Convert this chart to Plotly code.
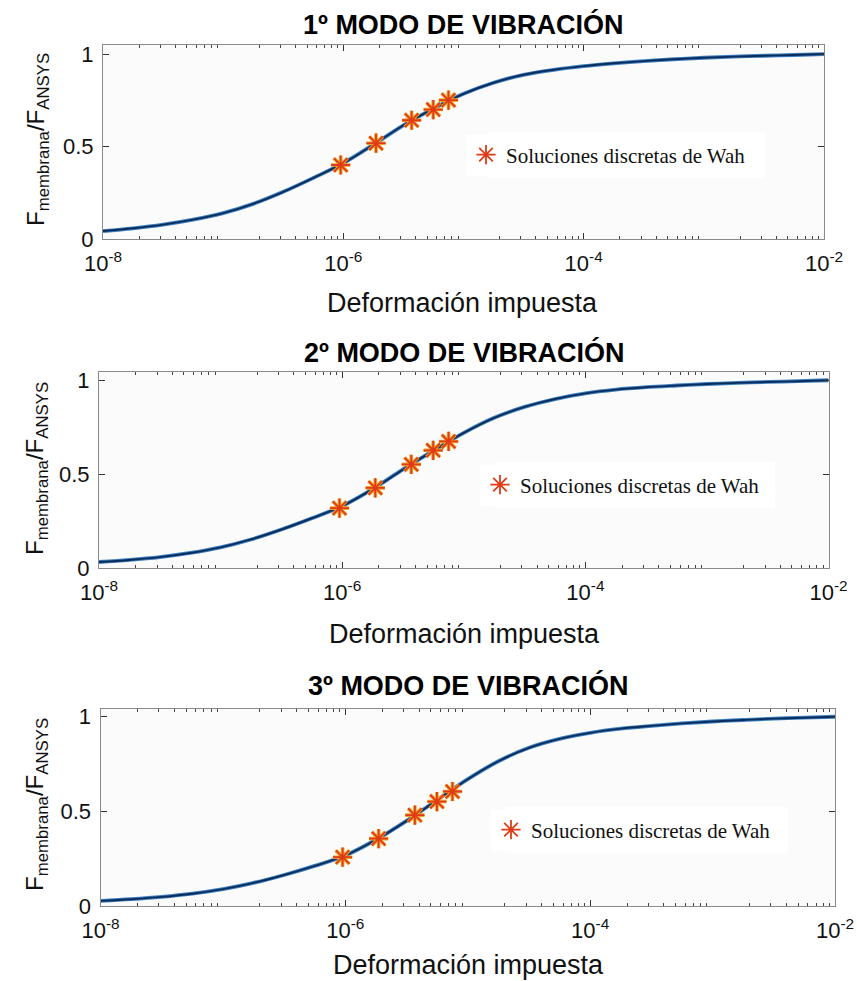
import plotly.graph_objects as go

# ---- data ----
curve_log_x = [-8.0, -7.75, -7.5, -7.25, -7.0, -6.75, -6.5, -6.25, -6.0, -5.75, -5.5, -5.25,
               -5.0, -4.75, -4.5, -4.25, -4.0, -3.75, -3.5, -3.25, -3.0, -2.75, -2.5, -2.25, -2.0]
curve_mode1 = [0.043, 0.058, 0.078, 0.105, 0.140, 0.190, 0.255, 0.330, 0.410, 0.510, 0.615, 0.705,
               0.785, 0.845, 0.888, 0.915, 0.935, 0.950, 0.962, 0.972, 0.980, 0.986, 0.991, 0.995, 1.0]
curve_mode2 = [0.032, 0.043, 0.058, 0.080, 0.110, 0.152, 0.205, 0.265, 0.330, 0.420, 0.525, 0.625,
               0.720, 0.800, 0.858, 0.900, 0.930, 0.950, 0.963, 0.972, 0.980, 0.986, 0.991, 0.995, 1.0]
curve_mode3 = [0.027, 0.036, 0.048, 0.065, 0.089, 0.122, 0.164, 0.212, 0.267, 0.350, 0.450, 0.560,
               0.670, 0.765, 0.836, 0.883, 0.915, 0.937, 0.952, 0.965, 0.975, 0.983, 0.990, 0.995, 1.0]

wah_x = [0.95e-6, 1.87e-6, 3.7e-6, 5.6e-6, 7.5e-6]
wah_mode1 = [0.40, 0.518, 0.642, 0.70, 0.751]
wah_mode2 = [0.319, 0.427, 0.552, 0.627, 0.674]
wah_mode3 = [0.258, 0.356, 0.480, 0.552, 0.605]

titles = ["1º MODO DE VIBRACIÓN", "2º MODO DE VIBRACIÓN", "3º MODO DE VIBRACIÓN"]
x_tick_vals = [1e-8, 1e-6, 1e-4, 1e-2]
x_tick_text = ["10<sup>-8</sup>", "10<sup>-6</sup>", "10<sup>-4</sup>", "10<sup>-2</sup>"]
y_tick_vals = [0, 0.5, 1]
y_tick_text = ["0", "0.5", "1"]
legend_label = "Soluciones discretas de Wah"
x_label = "Deformación impuesta"
y_label = "F<sub>membrana</sub>/F<sub>ANSYS</sub>"

W, H = 857, 981
curve_x = [10 ** e for e in curve_log_x]
minor_vals = [k * 10 ** e for e in range(-8, -2) for k in range(2, 10)]

# panel geometry in pixels
panels = [
    dict(l=103, r=824, t=45, b=239, ytop=1.049, title_y=25, title_x=463, xt_y=303, xt_x=463,
         yt_x=37, yt_y=140, text_x=507, leg_y=155, box=(487, 765, 132, 178),
         curve=curve_mode1, pts=wah_mode1),
    dict(l=99, r=828.6, t=372, b=568, ytop=1.044, title_y=352, title_x=464, xt_y=634, xt_x=464,
         yt_x=36, yt_y=469, text_x=521, leg_y=485, box=(495, 775, 462, 508),
         curve=curve_mode2, pts=wah_mode2),
    dict(l=100.5, r=835, t=709, b=906, ytop=1.041, title_y=685, title_x=468, xt_y=965, xt_x=468,
         yt_x=36, yt_y=805, text_x=532, leg_y=830, box=(506, 788, 807, 853),
         curve=curve_mode3, pts=wah_mode3),
]

fig = go.Figure()
annotations = []
shapes = []
axis_font = dict(family="Liberation Sans, Arial, sans-serif", size=22, color="#111")

for i, p in enumerate(panels):
    n = "" if i == 0 else str(i + 1)
    xa, ya = "x" + n, "y" + n
    leg = "legend" + n
    # curve: light halo + dark core
    fig.add_trace(go.Scatter(x=curve_x, y=p["curve"], mode="lines",
                             line=dict(color="#3d7fc0", width=3.8, shape="spline"),
                             xaxis=xa, yaxis=ya, showlegend=False, hoverinfo="skip"))
    fig.add_trace(go.Scatter(x=curve_x, y=p["curve"], mode="lines",
                             line=dict(color="#0b2d5c", width=1.9, shape="spline"),
                             xaxis=xa, yaxis=ya, showlegend=False))
    # Wah points: orange outer, red inner
    fig.add_trace(go.Scatter(x=wah_x, y=p["pts"], mode="markers",
                             marker=dict(symbol="asterisk-open", size=16, color="#f2a227",
                                         line=dict(color="#f2a227", width=3.6)),
                             xaxis=xa, yaxis=ya, showlegend=False, hoverinfo="skip"))
    fig.add_trace(go.Scatter(x=wah_x, y=p["pts"], mode="markers", name=legend_label,
                             marker=dict(symbol="asterisk-open", size=16, color="#df3b17",
                                         line=dict(color="#df3b17", width=1.8)),
                             xaxis=xa, yaxis=ya, showlegend=True, legend=leg))

    xdom = [p["l"] / W, p["r"] / W]
    ydom = [1 - p["b"] / H, 1 - p["t"] / H]
    fig.update_layout(**{
        "xaxis" + n: dict(type="log", domain=xdom, range=[-8, -2], anchor=ya, automargin=False,
                          tickmode="array", tickvals=x_tick_vals, ticktext=x_tick_text,
                          ticks="inside", ticklen=6, tickcolor="#333", showline=True, linecolor="#8a8a8a",
                          mirror="allticks", showgrid=False, zeroline=False, tickfont=axis_font,
                          ticklabelstandoff=5,
                          minor=dict(tickmode="array", tickvals=minor_vals, ticks="inside", ticklen=3,
                                     tickcolor="#444", showgrid=False)),
        "yaxis" + n: dict(domain=ydom, range=[0, p["ytop"]], anchor=xa, automargin=False,
                          tickmode="array", tickvals=y_tick_vals, ticktext=y_tick_text,
                          ticks="inside", ticklen=6, tickcolor="#333", showline=True, linecolor="#8a8a8a",
                          mirror="allticks", showgrid=False, zeroline=False, tickfont=axis_font,
                          ticklabelstandoff=4),
        leg: dict(x=(p["text_x"] - 41) / W, y=1 - p["leg_y"] / H, xanchor="left", yanchor="middle",
                  bgcolor="white", borderwidth=0, itemwidth=30,
                  font=dict(family="Liberation Serif, Times New Roman, serif", size=21, color="#111")),
    })
    annotations.append(dict(text="<b>" + titles[i] + "</b>", x=p["title_x"] / W, y=1 - p["title_y"] / H,
                            xref="paper", yref="paper", showarrow=False, xanchor="center", yanchor="middle",
                            font=dict(family="Liberation Sans, Arial, sans-serif", size=27, color="#000")))
    annotations.append(dict(text=x_label, x=p["xt_x"] / W, y=1 - p["xt_y"] / H,
                            xref="paper", yref="paper", showarrow=False, xanchor="center", yanchor="middle",
                            font=dict(family="Liberation Sans, Arial, sans-serif", size=27, color="#111")))
    annotations.append(dict(text=y_label, x=p["yt_x"] / W, y=1 - p["yt_y"] / H, textangle=-90,
                            xref="paper", yref="paper", showarrow=False, xanchor="center", yanchor="middle",
                            font=dict(family="Liberation Sans, Arial, sans-serif", size=24, color="#111")))
    # plot-area background
    shapes.append(dict(type="rect", xref="x" + n + " domain", yref="y" + n + " domain", x0=0, x1=1, y0=0, y1=1,
                       fillcolor="#fbfbfb", line=dict(width=0), layer="below"))
    # white legend box
    bx0, bx1, by0, by1 = p["box"]
    shapes.append(dict(type="rect", xref="paper", yref="paper", x0=bx0 / W, x1=bx1 / W,
                       y0=1 - by1 / H, y1=1 - by0 / H, fillcolor="white", line=dict(width=0), layer="below"))

fig.update_layout(width=W, height=H, margin=dict(l=0, r=0, t=0, b=0, autoexpand=False),
                  paper_bgcolor="white", plot_bgcolor="rgba(0,0,0,0)",
                  annotations=annotations, shapes=shapes)

fig.write_html("out.html", config={"displayModeBar": False},
               post_script="document.body.style.margin='0';document.body.style.padding='0';"
                           "document.documentElement.style.overflow='hidden';")
